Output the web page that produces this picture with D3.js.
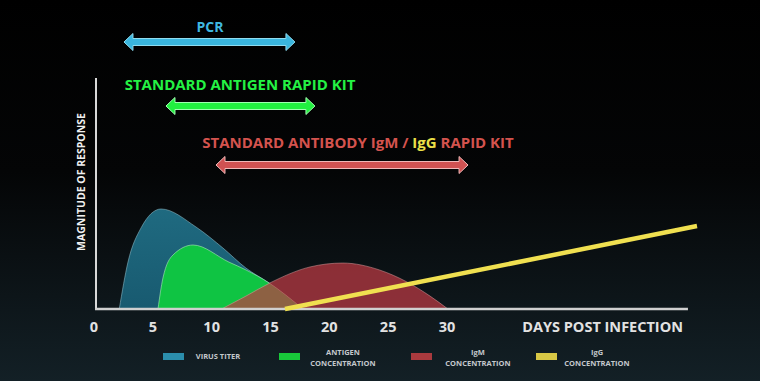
<!DOCTYPE html>
<html><head><meta charset="utf-8">
<script src="https://cdn.jsdelivr.net/npm/d3@7"></script>
<style>html,body{margin:0;padding:0;background:#000;overflow:hidden}text{font-family:"Open Sans",sans-serif;font-weight:700}</style>
</head><body><svg id="c" width="760" height="381"></svg>
<script>
// ---- data (day, magnitude 0-100) ----
const virusTiter = [[2.19,0],[2.93,20.3],[4.04,35.1],[5.74,43.3],[8.71,35.5],[11.0,26.4],[12.96,17.7],[14.91,11.3],[17.8,0]];
const antigen = [[5.48,0],[5.9,13.4],[6.76,23.4],[8.46,27.7],[11.51,20.3],[12.96,16.9],[14.91,11.3],[17.8,0]];
const igm = [[10.88,0],[12.96,5.6],[15.0,11.3],[18.4,18.2],[21.19,19.9],[24.3,16.9],[26.64,11.7],[28.6,5.6],[30.12,0]];
const igg = [[16.27,0],[51.29,35.9]];
const xTicks = [0,5,10,15,20,25,30];
const xMaxDay = 50.52;
const pcrRange = [2.59,17.12];
const antigenKitRange = [6.16,18.82];
const antibodyKitRange = [10.41,31.83];
const legendLabels = [["VIRUS TITER"],["ANTIGEN","CONCENTRATION"],["IgM","CONCENTRATION"],["IgG","CONCENTRATION"]];
const legendColors = ["#2b8eac","#18c83a","#a93a3e","#d8c845"];

const svg = d3.select("#c");
const defs = svg.append("defs");
const bg = defs.append("linearGradient").attr("id","bg").attr("x1",0).attr("y1",0).attr("x2",0).attr("y2",1);
bg.append("stop").attr("offset","0%").attr("stop-color","#000");
bg.append("stop").attr("offset","45%").attr("stop-color","#040506");
bg.append("stop").attr("offset","100%").attr("stop-color","#132026");
svg.append("rect").attr("width",760).attr("height",381).attr("fill","url(#bg)");
const bl = defs.append("linearGradient").attr("id","blueg").attr("x1",0).attr("y1",0).attr("x2",0).attr("y2",1);
bl.append("stop").attr("offset","0%").attr("stop-color","#1f6a80");
bl.append("stop").attr("offset","100%").attr("stop-color","#185a70");

const x = d3.scaleLinear().domain([0,30]).range([93.5,446.5]);
const y = d3.scaleLinear().domain([0,100]).range([309,78]);

const area = d3.area().x(d=>x(d[0])).y0(y(0)).y1(d=>y(d[1])).curve(d3.curveMonotoneX);

svg.append("path").datum(virusTiter).attr("d",area).attr("fill","url(#blueg)")
  .attr("stroke","#8fc0cc").attr("stroke-opacity",0.55).attr("stroke-width",1);
svg.append("path").datum(antigen).attr("d",area).attr("fill","#0fc443")
  .attr("stroke","#b8f0c0").attr("stroke-opacity",0.55).attr("stroke-width",1);
svg.append("path").datum(igm).attr("d",area).attr("fill","rgb(190,58,68)").attr("fill-opacity",0.72)
  .attr("stroke","#e0a0a0").attr("stroke-opacity",0.5).attr("stroke-width",1);

// axes
svg.append("line").attr("x1",96).attr("x2",96).attr("y1",y(100)).attr("y2",y(0)+1)
  .attr("stroke","#d8d8d8").attr("stroke-width",2);
svg.append("line").attr("x1",95).attr("x2",x(xMaxDay)).attr("y1",y(0)).attr("y2",y(0))
  .attr("stroke","#d0d0d0").attr("stroke-width",2.5);

const line = d3.line().x(d=>x(d[0])).y(d=>y(d[1]));
svg.append("path").datum(igg).attr("d",line).attr("stroke","#f0e050").attr("stroke-width",4.5).attr("fill","none");

const ax = svg.append("g").attr("transform",`translate(0,${y(0)})`)
  .call(d3.axisBottom(x).tickValues(xTicks).tickSize(0));
ax.select(".domain").remove();
ax.selectAll("text").attr("dy",null).attr("y",23).attr("fill","#e2e2e2")
  .style("font-size","14.5px").style("font-family","'Open Sans',sans-serif").style("font-weight","700");

svg.append("text").attr("x",683).attr("y",332).attr("text-anchor","end").attr("fill","#e2e2e2")
  .style("font-size","14.5px").text("DAYS POST INFECTION");
svg.append("text").attr("transform","translate(85,182) rotate(-90)").attr("text-anchor","middle")
  .attr("fill","#f0f0f0").style("font-size","10.5px").text("MAGNITUDE OF RESPONSE");

// arrows
function arrow(range, cy, fill, stroke){
  const x1 = x(range[0]), x2 = x(range[1]), h=9, hh=8.5, s=3.5;
  const pts = [[x1,cy],[x1+h,cy-hh],[x1+h,cy-s],[x2-h,cy-s],[x2-h,cy-hh],[x2,cy],[x2-h,cy+hh],[x2-h,cy+s],[x1+h,cy+s],[x1+h,cy+hh]];
  svg.append("path").attr("d","M"+pts.map(p=>p.join(",")).join("L")+"Z")
    .attr("fill",fill).attr("stroke",stroke).attr("stroke-width",1).attr("stroke-linejoin","round");
}
arrow(pcrRange,42,"#3ab6de","#8fdcf0");
arrow(antigenKitRange,106,"#22f040","#a0ffb0");
arrow(antibodyKitRange,165,"#d05252","#f0b8b8");

svg.append("text").attr("x",210).attr("y",32).attr("text-anchor","middle").attr("fill","#3fb8e0")
  .style("font-size","14px").text("PCR");
svg.append("text").attr("x",240).attr("y",90).attr("text-anchor","middle").attr("fill","#24f244")
  .style("font-size","15px").text("STANDARD ANTIGEN RAPID KIT");
const t3 = svg.append("text").attr("x",358).attr("y",148).attr("text-anchor","middle").attr("fill","#d4534e")
  .style("font-size","15px");
t3.append("tspan").text("STANDARD ANTIBODY IgM / ");
t3.append("tspan").attr("fill","#ece048").text("IgG");
t3.append("tspan").text(" RAPID KIT");

// legend
const swX = [163,279,411,536], txX = [218,343,478,597];
legendLabels.forEach((lab,i)=>{
  svg.append("rect").attr("x",swX[i]).attr("y",353).attr("width",21).attr("height",7).attr("fill",legendColors[i]);
  const t = svg.append("text").attr("text-anchor","middle").attr("fill","#c4c8cc").style("font-size","7.5px");
  if(lab.length===1){ t.append("tspan").attr("x",txX[i]).attr("y",359).text(lab[0]); }
  else { t.append("tspan").attr("x",txX[i]).attr("y",355).text(lab[0]);
         t.append("tspan").attr("x",txX[i]).attr("y",366).text(lab[1]); }
});
</script></body></html>
